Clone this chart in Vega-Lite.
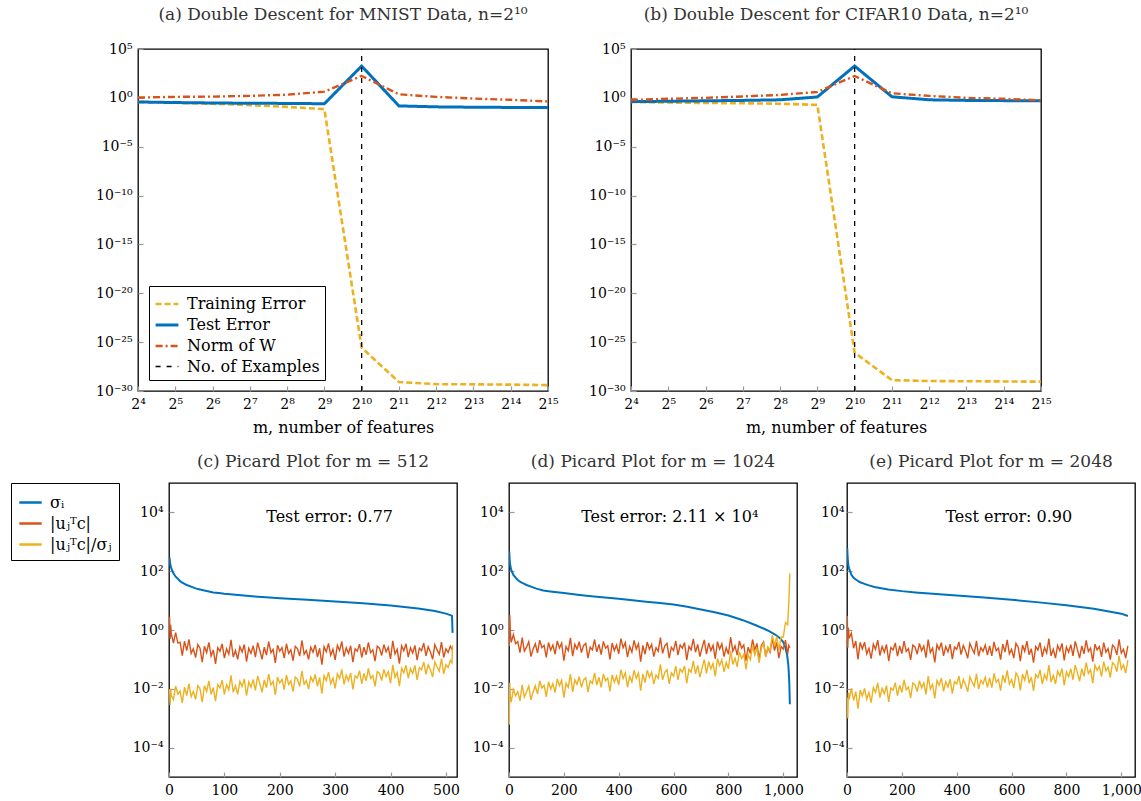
{
"$schema":"https://vega.github.io/schema/vega-lite/v6.json",
"padding":{"left":10,"top":5,"right":0,"bottom":0},
"config":{
 "font":"DejaVu Serif",
 "view":{"stroke":"black","strokeWidth":1.3},
 "axis":{"grid":false,"domain":false,"labelFont":"DejaVu Serif","labelFontSize":14,"labelColor":"black","labelFlush":false,"labelOverlap":false,"tickColor":"#999","tickSize":-5,"tickWidth":1.2,"labelPadding":11,"titleFont":"DejaVu Serif","titleFontSize":16,"titleFontWeight":"normal","titleColor":"black"},
 "title":{"font":"DejaVu Serif","fontSize":17,"fontWeight":"normal","color":"#333"},
 "legend":{"labelFont":"DejaVu Serif","labelFontSize":16,"labelColor":"black","strokeColor":"black","fillColor":"white","padding":6,"rowPadding":0,"labelOffset":7,"symbolType":"stroke"}
},
"datasets":{
 "topa":[
  {"m":16,"v":0.38,"s":"Training Error"},{"m":32,"v":0.32,"s":"Training Error"},{"m":64,"v":0.25,"s":"Training Error"},{"m":128,"v":0.18,"s":"Training Error"},{"m":256,"v":0.12,"s":"Training Error"},{"m":512,"v":0.07,"s":"Training Error"},{"m":1024,"v":2.7e-26,"s":"Training Error"},{"m":2048,"v":8.3e-30,"s":"Training Error"},{"m":4096,"v":5e-30,"s":"Training Error"},{"m":8192,"v":4.8e-30,"s":"Training Error"},{"m":16384,"v":4.5e-30,"s":"Training Error"},{"m":32768,"v":4e-30,"s":"Training Error"},
  {"m":16,"v":0.38,"s":"Test Error"},{"m":32,"v":0.33,"s":"Test Error"},{"m":64,"v":0.3,"s":"Test Error"},{"m":128,"v":0.28,"s":"Test Error"},{"m":256,"v":0.27,"s":"Test Error"},{"m":512,"v":0.25,"s":"Test Error"},{"m":1024,"v":1800,"s":"Test Error"},{"m":2048,"v":0.15,"s":"Test Error"},{"m":4096,"v":0.12,"s":"Test Error"},{"m":8192,"v":0.11,"s":"Test Error"},{"m":16384,"v":0.105,"s":"Test Error"},{"m":32768,"v":0.1,"s":"Test Error"},
  {"m":16,"v":1.07,"s":"Norm of W"},{"m":32,"v":1.26,"s":"Norm of W"},{"m":64,"v":1.35,"s":"Norm of W"},{"m":128,"v":1.6,"s":"Norm of W"},{"m":256,"v":2.1,"s":"Norm of W"},{"m":512,"v":4.3,"s":"Norm of W"},{"m":1024,"v":174,"s":"Norm of W"},{"m":2048,"v":2.3,"s":"Norm of W"},{"m":4096,"v":1.26,"s":"Norm of W"},{"m":8192,"v":0.85,"s":"Norm of W"},{"m":16384,"v":0.63,"s":"Norm of W"},{"m":32768,"v":0.43,"s":"Norm of W"},
  {"m":1024,"v":1e-30,"s":"No. of Examples"},{"m":1024,"v":100000,"s":"No. of Examples"}
 ],
 "topb":[
  {"m":16,"v":0.38,"s":"Training Error"},{"m":32,"v":0.33,"s":"Training Error"},{"m":64,"v":0.3,"s":"Training Error"},{"m":128,"v":0.28,"s":"Training Error"},{"m":256,"v":0.25,"s":"Training Error"},{"m":512,"v":0.19,"s":"Training Error"},{"m":1024,"v":8.3e-27,"s":"Training Error"},{"m":2048,"v":1.3e-29,"s":"Training Error"},{"m":4096,"v":1.05e-29,"s":"Training Error"},{"m":8192,"v":1e-29,"s":"Training Error"},{"m":16384,"v":9.5e-30,"s":"Training Error"},{"m":32768,"v":9e-30,"s":"Training Error"},
  {"m":16,"v":0.41,"s":"Test Error"},{"m":32,"v":0.45,"s":"Test Error"},{"m":64,"v":0.5,"s":"Test Error"},{"m":128,"v":0.55,"s":"Test Error"},{"m":256,"v":0.63,"s":"Test Error"},{"m":512,"v":1.23,"s":"Test Error"},{"m":1024,"v":1800,"s":"Test Error"},{"m":2048,"v":1.3,"s":"Test Error"},{"m":4096,"v":0.63,"s":"Test Error"},{"m":8192,"v":0.55,"s":"Test Error"},{"m":16384,"v":0.52,"s":"Test Error"},{"m":32768,"v":0.5,"s":"Test Error"},
  {"m":16,"v":0.6,"s":"Norm of W"},{"m":32,"v":0.8,"s":"Norm of W"},{"m":64,"v":1.0,"s":"Norm of W"},{"m":128,"v":1.4,"s":"Norm of W"},{"m":256,"v":2.0,"s":"Norm of W"},{"m":512,"v":4.0,"s":"Norm of W"},{"m":1024,"v":174,"s":"Norm of W"},{"m":2048,"v":2.95,"s":"Norm of W"},{"m":4096,"v":1.6,"s":"Norm of W"},{"m":8192,"v":1.0,"s":"Norm of W"},{"m":16384,"v":0.8,"s":"Norm of W"},{"m":32768,"v":0.56,"s":"Norm of W"},
  {"m":1024,"v":1e-30,"s":"No. of Examples"},{"m":1024,"v":100000,"s":"No. of Examples"}
 ],
 "sc":[{"j":1,"sig":290},{"j":2,"sig":190},{"j":3,"sig":150},{"j":4,"sig":130},{"j":6,"sig":100},{"j":8,"sig":85},{"j":12,"sig":65},{"j":16,"sig":55},{"j":20,"sig":46},{"j":24,"sig":41},{"j":28,"sig":37},{"j":32,"sig":34},{"j":40,"sig":30},{"j":48,"sig":26},{"j":56,"sig":24},{"j":64,"sig":22},{"j":72,"sig":20.5},{"j":80,"sig":19},{"j":90,"sig":18},{"j":100,"sig":17},{"j":125,"sig":15.4},{"j":150,"sig":14},{"j":175,"sig":13},{"j":200,"sig":12},{"j":250,"sig":10.6},{"j":300,"sig":9.3},{"j":350,"sig":8.1},{"j":400,"sig":6.8},{"j":450,"sig":5.4},{"j":480,"sig":4.4},{"j":500,"sig":3.6},{"j":508,"sig":3.2},{"j":511,"sig":3.0},{"j":512,"sig":0.8}],
 "sd":[{"j":1,"sig":470},{"j":2,"sig":300},{"j":3,"sig":200},{"j":5,"sig":150},{"j":8,"sig":110},{"j":16,"sig":75},{"j":24,"sig":60},{"j":32,"sig":50},{"j":40,"sig":44},{"j":48,"sig":40},{"j":56,"sig":37},{"j":64,"sig":34},{"j":80,"sig":30},{"j":100,"sig":25.5},{"j":125,"sig":22},{"j":150,"sig":20.5},{"j":200,"sig":18},{"j":250,"sig":15.8},{"j":300,"sig":14},{"j":350,"sig":12.7},{"j":400,"sig":11.5},{"j":450,"sig":10.3},{"j":500,"sig":9.2},{"j":550,"sig":8.3},{"j":600,"sig":7.4},{"j":650,"sig":6.2},{"j":700,"sig":5.0},{"j":750,"sig":4.0},{"j":800,"sig":3.1},{"j":850,"sig":2.2},{"j":900,"sig":1.45},{"j":930,"sig":1.1},{"j":950,"sig":0.9},{"j":970,"sig":0.7},{"j":980,"sig":0.6},{"j":990,"sig":0.5},{"j":1000,"sig":0.39},{"j":1008,"sig":0.25},{"j":1014,"sig":0.14},{"j":1018,"sig":0.07},{"j":1020,"sig":0.037},{"j":1022,"sig":0.015},{"j":1024,"sig":0.003}],
 "se":[{"j":1,"sig":600},{"j":2,"sig":350},{"j":3,"sig":250},{"j":5,"sig":160},{"j":8,"sig":120},{"j":16,"sig":75},{"j":24,"sig":60},{"j":32,"sig":52},{"j":48,"sig":42},{"j":64,"sig":37},{"j":80,"sig":33},{"j":100,"sig":29},{"j":150,"sig":24},{"j":200,"sig":21},{"j":250,"sig":19},{"j":300,"sig":17.5},{"j":400,"sig":15},{"j":500,"sig":12.7},{"j":600,"sig":10.7},{"j":700,"sig":8.7},{"j":800,"sig":7.0},{"j":900,"sig":5.3},{"j":1000,"sig":3.6},{"j":1024,"sig":3.0}],
 "nc":[{"j":1,"r":2.8,"y":0.0097},{"j":2,"r":0.5,"y":0.0028},{"j":3,"r":1.5,"y":0.01},{"j":4,"r":0.78,"y":0.006},{"j":8,"r":0.36,"y":0.0043},{"j":12,"r":0.81,"y":0.0124},{"j":16,"r":0.36,"y":0.0066},{"j":20,"r":0.385,"y":0.0084},{"j":24,"r":0.135,"y":0.0033},{"j":28,"r":0.42,"y":0.0114},{"j":32,"r":0.2,"y":0.0059},{"j":36,"r":0.48,"y":0.0151},{"j":40,"r":0.16,"y":0.0054},{"j":44,"r":0.23,"y":0.0082},{"j":48,"r":0.115,"y":0.0044},{"j":52,"r":0.32,"y":0.0128},{"j":56,"r":0.24,"y":0.01},{"j":60,"r":0.08,"y":0.0035},{"j":64,"r":0.28,"y":0.0127},{"j":68,"r":0.17,"y":0.0081},{"j":72,"r":0.38,"y":0.0186},{"j":76,"r":0.13,"y":0.0065},{"j":80,"r":0.21,"y":0.011},{"j":84,"r":0.07,"y":0.0038},{"j":88,"r":0.25,"y":0.0138},{"j":92,"r":0.19,"y":0.0107},{"j":96,"r":0.34,"y":0.0197},{"j":100,"r":0.11,"y":0.0065},{"j":104,"r":0.23,"y":0.0138},{"j":108,"r":0.15,"y":0.0092},{"j":112,"r":0.46,"y":0.0285},{"j":116,"r":0.12,"y":0.0076},{"j":120,"r":0.2,"y":0.0128},{"j":124,"r":0.1,"y":0.0065},{"j":128,"r":0.27,"y":0.0178},{"j":132,"r":0.18,"y":0.0121},{"j":136,"r":0.32,"y":0.0218},{"j":140,"r":0.084,"y":0.0058},{"j":144,"r":0.24,"y":0.0168},{"j":148,"r":0.16,"y":0.0114},{"j":152,"r":0.29,"y":0.0209},{"j":156,"r":0.12,"y":0.0088},{"j":160,"r":0.37,"y":0.0274},{"j":164,"r":0.2,"y":0.015},{"j":168,"r":0.1,"y":0.0076},{"j":172,"r":0.26,"y":0.02},{"j":176,"r":0.14,"y":0.0109},{"j":180,"r":0.4,"y":0.0316},{"j":184,"r":0.17,"y":0.0136},{"j":188,"r":0.22,"y":0.0178},{"j":192,"r":0.076,"y":0.0062},{"j":196,"r":0.3,"y":0.0249},{"j":200,"r":0.19,"y":0.0159},{"j":204,"r":0.25,"y":0.0211},{"j":208,"r":0.11,"y":0.0094},{"j":212,"r":0.34,"y":0.0294},{"j":216,"r":0.16,"y":0.014},{"j":220,"r":0.21,"y":0.0186},{"j":224,"r":0.09,"y":0.0081},{"j":228,"r":0.28,"y":0.0253},{"j":232,"r":0.23,"y":0.021},{"j":236,"r":0.13,"y":0.012},{"j":240,"r":0.44,"y":0.0411},{"j":244,"r":0.15,"y":0.0142},{"j":248,"r":0.2,"y":0.0191},{"j":252,"r":0.1,"y":0.0097},{"j":256,"r":0.26,"y":0.0254},{"j":260,"r":0.176,"y":0.0173},{"j":264,"r":0.31,"y":0.0308},{"j":268,"r":0.12,"y":0.0121},{"j":272,"r":0.24,"y":0.0244},{"j":276,"r":0.066,"y":0.0068},{"j":280,"r":0.27,"y":0.0279},{"j":284,"r":0.18,"y":0.0188},{"j":288,"r":0.35,"y":0.0369},{"j":292,"r":0.14,"y":0.0149},{"j":296,"r":0.22,"y":0.0235},{"j":300,"r":0.096,"y":0.0103},{"j":304,"r":0.3,"y":0.0327},{"j":308,"r":0.2,"y":0.0221},{"j":312,"r":0.41,"y":0.0459},{"j":316,"r":0.124,"y":0.0141},{"j":320,"r":0.25,"y":0.0289},{"j":324,"r":0.16,"y":0.0187},{"j":328,"r":0.29,"y":0.0344},{"j":332,"r":0.08,"y":0.0096},{"j":336,"r":0.23,"y":0.028},{"j":340,"r":0.19,"y":0.0234},{"j":344,"r":0.33,"y":0.0413},{"j":348,"r":0.116,"y":0.0147},{"j":352,"r":0.26,"y":0.0333},{"j":356,"r":0.144,"y":0.0186},{"j":360,"r":0.38,"y":0.0498},{"j":364,"r":0.17,"y":0.0225},{"j":368,"r":0.21,"y":0.0282},{"j":372,"r":0.088,"y":0.012},{"j":376,"r":0.28,"y":0.0385},{"j":380,"r":0.24,"y":0.0334},{"j":384,"r":0.136,"y":0.0191},{"j":388,"r":0.32,"y":0.0454},{"j":392,"r":0.18,"y":0.0259},{"j":396,"r":0.26,"y":0.0378},{"j":400,"r":0.104,"y":0.0153},{"j":404,"r":0.43,"y":0.0656},{"j":408,"r":0.156,"y":0.0246},{"j":412,"r":0.22,"y":0.036},{"j":416,"r":0.072,"y":0.0122},{"j":420,"r":0.29,"y":0.0506},{"j":424,"r":0.196,"y":0.0353},{"j":428,"r":0.34,"y":0.0631},{"j":432,"r":0.12,"y":0.0229},{"j":436,"r":0.25,"y":0.0491},{"j":440,"r":0.164,"y":0.0331},{"j":444,"r":0.3,"y":0.0623},{"j":448,"r":0.094,"y":0.02},{"j":452,"r":0.24,"y":0.0524},{"j":456,"r":0.2,"y":0.0448},{"j":460,"r":0.36,"y":0.0826},{"j":464,"r":0.132,"y":0.031},{"j":468,"r":0.27,"y":0.0649},{"j":472,"r":0.18,"y":0.0443},{"j":476,"r":0.1,"y":0.0252},{"j":480,"r":0.32,"y":0.0822},{"j":484,"r":0.21,"y":0.0551},{"j":488,"r":0.148,"y":0.0397},{"j":492,"r":0.39,"y":0.1067},{"j":496,"r":0.116,"y":0.0324},{"j":500,"r":0.23,"y":0.0656},{"j":504,"r":0.172,"y":0.0525},{"j":508,"r":0.28,"y":0.091},{"j":511,"r":0.22,"y":0.076},{"j":512,"r":0.25,"y":0.3}],
 "nd":[{"j":1,"r":0.28,"y":0.0006},{"j":3,"r":3.2,"y":0.016},{"j":5,"r":0.8,"y":0.0053},{"j":8,"r":0.38,"y":0.0035},{"j":16,"r":0.7,"y":0.0094},{"j":24,"r":0.34,"y":0.0058},{"j":32,"r":0.4,"y":0.008},{"j":40,"r":0.17,"y":0.0039},{"j":48,"r":0.55,"y":0.0137},{"j":56,"r":0.19,"y":0.0052},{"j":64,"r":0.26,"y":0.0078},{"j":72,"r":0.4,"y":0.0125},{"j":80,"r":0.125,"y":0.0042},{"j":88,"r":0.225,"y":0.0079},{"j":96,"r":0.34,"y":0.0127},{"j":104,"r":0.165,"y":0.0066},{"j":112,"r":0.45,"y":0.0185},{"j":120,"r":0.25,"y":0.0106},{"j":128,"r":0.3,"y":0.0131},{"j":136,"r":0.118,"y":0.0053},{"j":144,"r":0.375,"y":0.0173},{"j":152,"r":0.205,"y":0.0097},{"j":160,"r":0.31,"y":0.0151},{"j":168,"r":0.15,"y":0.0074},{"j":176,"r":0.425,"y":0.0216},{"j":184,"r":0.245,"y":0.0127},{"j":192,"r":0.36,"y":0.0194},{"j":200,"r":0.09,"y":0.005},{"j":208,"r":0.275,"y":0.0156},{"j":216,"r":0.195,"y":0.0113},{"j":224,"r":0.54,"y":0.0318},{"j":232,"r":0.13,"y":0.0079},{"j":240,"r":0.325,"y":0.0202},{"j":248,"r":0.225,"y":0.0142},{"j":256,"r":0.4,"y":0.0258},{"j":264,"r":0.17,"y":0.0112},{"j":272,"r":0.3,"y":0.02},{"j":280,"r":0.35,"y":0.0238},{"j":288,"r":0.11,"y":0.0077},{"j":296,"r":0.26,"y":0.0186},{"j":304,"r":0.21,"y":0.0153},{"j":312,"r":0.475,"y":0.0348},{"j":320,"r":0.18,"y":0.0134},{"j":328,"r":0.325,"y":0.0246},{"j":336,"r":0.145,"y":0.0111},{"j":344,"r":0.41,"y":0.0322},{"j":352,"r":0.24,"y":0.0188},{"j":360,"r":0.29,"y":0.0231},{"j":368,"r":0.1,"y":0.0082},{"j":376,"r":0.36,"y":0.03},{"j":384,"r":0.2,"y":0.0168},{"j":392,"r":0.31,"y":0.0268},{"j":400,"r":0.155,"y":0.0135},{"j":408,"r":0.51,"y":0.0453},{"j":416,"r":0.25,"y":0.0226},{"j":424,"r":0.375,"y":0.0345},{"j":432,"r":0.12,"y":0.0113},{"j":440,"r":0.275,"y":0.0263},{"j":448,"r":0.175,"y":0.017},{"j":456,"r":0.44,"y":0.0434},{"j":464,"r":0.225,"y":0.0227},{"j":472,"r":0.34,"y":0.0347},{"j":480,"r":0.083,"y":0.0086},{"j":488,"r":0.3,"y":0.0319},{"j":496,"r":0.15,"y":0.0162},{"j":504,"r":0.39,"y":0.0425},{"j":512,"r":0.22,"y":0.0246},{"j":520,"r":0.325,"y":0.037},{"j":528,"r":0.125,"y":0.0145},{"j":536,"r":0.25,"y":0.0295},{"j":544,"r":0.19,"y":0.0226},{"j":552,"r":0.55,"y":0.0673},{"j":560,"r":0.16,"y":0.0202},{"j":568,"r":0.29,"y":0.0365},{"j":576,"r":0.35,"y":0.0451},{"j":584,"r":0.11,"y":0.0147},{"j":592,"r":0.26,"y":0.0349},{"j":600,"r":0.2,"y":0.027},{"j":608,"r":0.425,"y":0.0595},{"j":616,"r":0.14,"y":0.0199},{"j":624,"r":0.31,"y":0.0469},{"j":632,"r":0.24,"y":0.0369},{"j":640,"r":0.375,"y":0.0602},{"j":648,"r":0.095,"y":0.0153},{"j":656,"r":0.275,"y":0.0457},{"j":664,"r":0.21,"y":0.0366},{"j":672,"r":0.5,"y":0.0894},{"j":680,"r":0.175,"y":0.0324},{"j":688,"r":0.325,"y":0.0624},{"j":696,"r":0.125,"y":0.0248},{"j":704,"r":0.25,"y":0.0512},{"j":712,"r":0.46,"y":0.099},{"j":720,"r":0.15,"y":0.0336},{"j":728,"r":0.36,"y":0.0845},{"j":736,"r":0.2,"y":0.0478},{"j":744,"r":0.3,"y":0.0736},{"j":752,"r":0.105,"y":0.0265},{"j":760,"r":0.4,"y":0.1056},{"j":768,"r":0.225,"y":0.0621},{"j":776,"r":0.34,"y":0.0975},{"j":784,"r":0.125,"y":0.0378},{"j":792,"r":0.25,"y":0.078},{"j":800,"r":0.15,"y":0.0484},{"j":808,"r":0.575,"y":0.1955},{"j":816,"r":0.19,"y":0.0675},{"j":824,"r":0.29,"y":0.1104},{"j":832,"r":0.14,"y":0.0561},{"j":840,"r":0.425,"y":0.1819},{"j":848,"r":0.24,"y":0.1074},{"j":856,"r":0.31,"y":0.15},{"j":864,"r":0.09,"y":0.0455},{"j":872,"r":0.26,"y":0.147},{"j":880,"r":0.16,"y":0.0975},{"j":888,"r":0.475,"y":0.3},{"j":896,"r":0.21,"y":0.142},{"j":904,"r":0.35,"y":0.249},{"j":912,"r":0.1,"y":0.076},{"j":920,"r":0.3,"y":0.246},{"j":928,"r":0.4,"y":0.355},{"j":936,"r":0.125,"y":0.12},{"j":944,"r":0.25,"y":0.262},{"j":952,"r":0.175,"y":0.198},{"j":960,"r":0.525,"y":0.672},{"j":968,"r":0.2,"y":0.288},{"j":976,"r":0.375,"y":0.6},{"j":984,"r":0.11,"y":0.207},{"j":992,"r":0.275,"y":0.583},{"j":1000,"r":0.225,"y":0.576},{"j":1008,"r":0.45,"y":1.8},{"j":1016,"r":0.15,"y":1.5},{"j":1020,"r":0.3,"y":8},{"j":1024,"r":0.25,"y":83}],
 "ne":[{"j":1,"r":3.0,"y":0.005},{"j":3,"r":0.25,"y":0.001},{"j":5,"r":1.2,"y":0.0075},{"j":8,"r":0.53,"y":0.0044},{"j":16,"r":0.78,"y":0.0104},{"j":24,"r":0.24,"y":0.004},{"j":32,"r":0.42,"y":0.008},{"j":40,"r":0.1,"y":0.0021},{"j":48,"r":0.38,"y":0.009},{"j":56,"r":0.225,"y":0.0058},{"j":64,"r":0.385,"y":0.0103},{"j":72,"r":0.154,"y":0.0044},{"j":80,"r":0.242,"y":0.0074},{"j":88,"r":0.106,"y":0.0034},{"j":96,"r":0.33,"y":0.011},{"j":104,"r":0.22,"y":0.0076},{"j":112,"r":0.45,"y":0.016},{"j":120,"r":0.136,"y":0.005},{"j":128,"r":0.275,"y":0.0104},{"j":136,"r":0.176,"y":0.0069},{"j":144,"r":0.32,"y":0.0128},{"j":152,"r":0.088,"y":0.0036},{"j":160,"r":0.253,"y":0.0107},{"j":168,"r":0.209,"y":0.009},{"j":176,"r":0.363,"y":0.0162},{"j":184,"r":0.128,"y":0.0058},{"j":192,"r":0.286,"y":0.0133},{"j":200,"r":0.158,"y":0.0076},{"j":208,"r":0.418,"y":0.0203},{"j":216,"r":0.187,"y":0.0092},{"j":224,"r":0.231,"y":0.0116},{"j":232,"r":0.097,"y":0.0049},{"j":240,"r":0.308,"y":0.0158},{"j":248,"r":0.264,"y":0.0138},{"j":256,"r":0.15,"y":0.008},{"j":264,"r":0.352,"y":0.0189},{"j":272,"r":0.198,"y":0.0108},{"j":280,"r":0.286,"y":0.0159},{"j":288,"r":0.114,"y":0.0064},{"j":296,"r":0.473,"y":0.0269},{"j":304,"r":0.172,"y":0.0099},{"j":312,"r":0.242,"y":0.0142},{"j":320,"r":0.079,"y":0.0047},{"j":328,"r":0.319,"y":0.0191},{"j":336,"r":0.216,"y":0.0131},{"j":344,"r":0.374,"y":0.023},{"j":352,"r":0.132,"y":0.0082},{"j":360,"r":0.275,"y":0.0174},{"j":368,"r":0.18,"y":0.0115},{"j":376,"r":0.33,"y":0.0213},{"j":384,"r":0.103,"y":0.0068},{"j":392,"r":0.264,"y":0.0175},{"j":400,"r":0.22,"y":0.0147},{"j":408,"r":0.396,"y":0.0268},{"j":416,"r":0.145,"y":0.01},{"j":424,"r":0.297,"y":0.0207},{"j":432,"r":0.198,"y":0.014},{"j":440,"r":0.11,"y":0.0079},{"j":448,"r":0.352,"y":0.0254},{"j":456,"r":0.231,"y":0.017},{"j":464,"r":0.163,"y":0.0121},{"j":472,"r":0.429,"y":0.0324},{"j":480,"r":0.128,"y":0.0097},{"j":488,"r":0.253,"y":0.0196},{"j":496,"r":0.189,"y":0.0148},{"j":504,"r":0.308,"y":0.0245},{"j":512,"r":0.139,"y":0.0112},{"j":520,"r":0.286,"y":0.0234},{"j":528,"r":0.132,"y":0.011},{"j":536,"r":0.396,"y":0.0335},{"j":544,"r":0.198,"y":0.0169},{"j":552,"r":0.242,"y":0.021},{"j":560,"r":0.099,"y":0.0087},{"j":568,"r":0.33,"y":0.0294},{"j":576,"r":0.176,"y":0.0159},{"j":584,"r":0.462,"y":0.0422},{"j":592,"r":0.154,"y":0.0143},{"j":600,"r":0.22,"y":0.0206},{"j":608,"r":0.11,"y":0.0105},{"j":616,"r":0.352,"y":0.0342},{"j":624,"r":0.264,"y":0.026},{"j":632,"r":0.088,"y":0.0088},{"j":640,"r":0.308,"y":0.0315},{"j":648,"r":0.187,"y":0.0195},{"j":656,"r":0.418,"y":0.0443},{"j":664,"r":0.143,"y":0.0153},{"j":672,"r":0.231,"y":0.0252},{"j":680,"r":0.077,"y":0.0085},{"j":688,"r":0.275,"y":0.031},{"j":696,"r":0.209,"y":0.0239},{"j":704,"r":0.374,"y":0.0437},{"j":712,"r":0.121,"y":0.0144},{"j":720,"r":0.253,"y":0.0307},{"j":728,"r":0.165,"y":0.0204},{"j":736,"r":0.506,"y":0.0637},{"j":744,"r":0.132,"y":0.0169},{"j":752,"r":0.22,"y":0.0287},{"j":760,"r":0.11,"y":0.0146},{"j":768,"r":0.297,"y":0.0401},{"j":776,"r":0.198,"y":0.0272},{"j":784,"r":0.352,"y":0.049},{"j":792,"r":0.092,"y":0.0131},{"j":800,"r":0.264,"y":0.0377},{"j":808,"r":0.176,"y":0.0258},{"j":816,"r":0.319,"y":0.0479},{"j":824,"r":0.132,"y":0.0203},{"j":832,"r":0.407,"y":0.064},{"j":840,"r":0.22,"y":0.0354},{"j":848,"r":0.11,"y":0.0181},{"j":856,"r":0.286,"y":0.0481},{"j":864,"r":0.154,"y":0.0265},{"j":872,"r":0.44,"y":0.0772},{"j":880,"r":0.187,"y":0.0335},{"j":888,"r":0.242,"y":0.0442},{"j":896,"r":0.084,"y":0.0156},{"j":904,"r":0.33,"y":0.0642},{"j":912,"r":0.209,"y":0.0422},{"j":920,"r":0.275,"y":0.0574},{"j":928,"r":0.121,"y":0.0261},{"j":936,"r":0.374,"y":0.0835},{"j":944,"r":0.176,"y":0.0405},{"j":952,"r":0.231,"y":0.0548},{"j":960,"r":0.099,"y":0.0242},{"j":968,"r":0.308,"y":0.0774},{"j":976,"r":0.253,"y":0.0654},{"j":984,"r":0.143,"y":0.038},{"j":992,"r":0.484,"y":0.132},{"j":1000,"r":0.165,"y":0.0458},{"j":1008,"r":0.22,"y":0.0645},{"j":1016,"r":0.11,"y":0.0344},{"j":1024,"r":0.286,"y":0.0953}],
 "tc":[{"j":290,"v":6800,"t":"Test error: 0.77"}],
 "td":[{"j":586,"v":6800,"t":"Test error: 2.11 × 10⁴"}],
 "te":[{"j":590,"v":6800,"t":"Test error: 0.90"}]
},
"resolve":{"scale":{"color":"independent","strokeDash":"independent","strokeWidth":"independent"}},
"spacing":16,
"vconcat":[
 {"hconcat":[
  {"width":410,"height":342,"title":{"text":"(a) Double Descent for MNIST Data, n=2¹⁰","offset":18},"data":{"name":"topa"},"mark":{"type":"line","clip":true},
   "encoding":{
    "x":{"field":"m","type":"quantitative","scale":{"type":"log","base":2,"domain":[16,32768],"nice":false},"axis":{"values":[16,32,64,128,256,512,1024,2048,4096,8192,16384,32768],"labelExpr":"['2⁴','2⁵','2⁶','2⁷','2⁸','2⁹','2¹⁰','2¹¹','2¹²','2¹³','2¹⁴','2¹⁵'][round(log(datum.value)/LN2)-4]","title":"m, number of features","titlePadding":8}},
    "y":{"field":"v","type":"quantitative","scale":{"type":"log","domain":[1e-30,100000],"nice":false},"axis":{"values":[1e-30,1e-25,1e-20,1e-15,1e-10,1e-5,1,100000],"labelExpr":"['10⁻³⁰','10⁻²⁵','10⁻²⁰','10⁻¹⁵','10⁻¹⁰','10⁻⁵','10⁰','10⁵'][round(log(datum.value)/LN10/5)+6]","title":null,"minExtent":41,"maxExtent":41}},
    "color":{"field":"s","type":"nominal","scale":{"domain":["Training Error","Test Error","Norm of W","No. of Examples"],"range":["#EDB120","#0072BD","#D95319","#000000"]},"legend":{"orient":"bottom-left","offset":11,"title":null,"symbolSize":520,"padding":5}},
    "strokeDash":{"field":"s","type":"nominal","scale":{"domain":["Training Error","Test Error","Norm of W","No. of Examples"],"range":[[6,3],[1,0],[7,3,2,3],[5,6]]}},
    "strokeWidth":{"field":"s","type":"nominal","scale":{"type":"ordinal","domain":["Training Error","Test Error","Norm of W","No. of Examples"],"range":[2.6,3,2.4,1.3]}}
   }},
  {"width":410,"height":342,"title":{"text":"(b) Double Descent for CIFAR10 Data, n=2¹⁰","offset":18},"data":{"name":"topb"},"mark":{"type":"line","clip":true},
   "encoding":{
    "x":{"field":"m","type":"quantitative","scale":{"type":"log","base":2,"domain":[16,32768],"nice":false},"axis":{"values":[16,32,64,128,256,512,1024,2048,4096,8192,16384,32768],"labelExpr":"['2⁴','2⁵','2⁶','2⁷','2⁸','2⁹','2¹⁰','2¹¹','2¹²','2¹³','2¹⁴','2¹⁵'][round(log(datum.value)/LN2)-4]","title":"m, number of features","titlePadding":8}},
    "y":{"field":"v","type":"quantitative","scale":{"type":"log","domain":[1e-30,100000],"nice":false},"axis":{"values":[1e-30,1e-25,1e-20,1e-15,1e-10,1e-5,1,100000],"labelExpr":"['10⁻³⁰','10⁻²⁵','10⁻²⁰','10⁻¹⁵','10⁻¹⁰','10⁻⁵','10⁰','10⁵'][round(log(datum.value)/LN10/5)+6]","title":null,"minExtent":52,"maxExtent":52}},
    "color":{"field":"s","type":"nominal","scale":{"domain":["Training Error","Test Error","Norm of W","No. of Examples"],"range":["#EDB120","#0072BD","#D95319","#000000"]},"legend":null},
    "strokeDash":{"field":"s","type":"nominal","scale":{"domain":["Training Error","Test Error","Norm of W","No. of Examples"],"range":[[6,3],[1,0],[7,3,2,3],[5,6]]},"legend":null},
    "strokeWidth":{"field":"s","type":"nominal","scale":{"type":"ordinal","domain":["Training Error","Test Error","Norm of W","No. of Examples"],"range":[2.6,3,2.4,1.3]},"legend":null}
   }}
 ],"spacing":19,"resolve":{"scale":{"color":"independent","strokeDash":"independent","strokeWidth":"independent"}}},
 {"hconcat":[
  {"width":1,"height":294,"view":{"stroke":null},"data":{"name":"sc"},"transform":[{"filter":"false"},{"fold":["sig"],"as":["s","v"]}],"mark":{"type":"line","strokeWidth":2},
   "encoding":{
    "x":{"field":"j","type":"quantitative","scale":{"domain":[0,1]},"axis":null},
    "y":{"field":"v","type":"quantitative","scale":{"domain":[0,1]},"axis":null},
    "color":{"field":"s","type":"nominal","scale":{"domain":["sig","r","y"],"range":["#0072BD","#D95319","#EDB120"]},"legend":{"orient":"left","offset":19,"title":null,"symbolSize":500,"symbolStrokeWidth":2.5,"padding":7,"labelExpr":"datum.label=='sig'?'σᵢ':datum.label=='r'?'|uⱼᵀc|':'|uⱼᵀc|/σⱼ'"}}}},
  {"hconcat":[
   {"width":288,"height":294,"title":{"text":"(c) Picard Plot for m = 512","offset":12},
    "encoding":{
     "x":{"field":"j","type":"quantitative","scale":{"domain":[0,520],"nice":false,"zero":false},"axis":{"values":[0,100,200,300,400,500],"title":null}},
     "y":{"field":"v","type":"quantitative","scale":{"type":"log","domain":[0.00001,100000],"nice":false},"axis":{"values":[0.0001,0.01,1,100,10000],"labelExpr":"['10⁻⁴','10⁻²','10⁰','10²','10⁴'][round(log(datum.value)/LN10/2)+2]","title":null,"minExtent":42,"maxExtent":42}}},
    "layer":[
     {"data":{"name":"sc"},"transform":[{"fold":["sig"],"as":["s","v"]}],"mark":{"type":"line","clip":true,"strokeWidth":2},
      "encoding":{"color":{"field":"s","type":"nominal","scale":{"domain":["sig","r","y"],"range":["#0072BD","#D95319","#EDB120"]},"legend":null}}},
     {"data":{"name":"nc"},"transform":[{"fold":["r","y"],"as":["s","v"]}],"mark":{"type":"line","clip":true,"strokeWidth":1.4},
      "encoding":{"color":{"field":"s","type":"nominal","scale":{"domain":["sig","r","y"],"range":["#0072BD","#D95319","#EDB120"]},"legend":null}}},
     {"data":{"name":"tc"},"mark":{"type":"text","fontSize":16,"font":"DejaVu Serif","baseline":"middle","color":"black"},"encoding":{"text":{"field":"t"}}}
    ]},
   {"width":288,"height":294,"title":{"text":"(d) Picard Plot for m = 1024","offset":12},
    "encoding":{
     "x":{"field":"j","type":"quantitative","scale":{"domain":[0,1050],"nice":false,"zero":false},"axis":{"values":[0,200,400,600,800,1000],"labelExpr":"format(datum.value, ',')","title":null}},
     "y":{"field":"v","type":"quantitative","scale":{"type":"log","domain":[0.00001,100000],"nice":false},"axis":{"values":[0.0001,0.01,1,100,10000],"labelExpr":"['10⁻⁴','10⁻²','10⁰','10²','10⁴'][round(log(datum.value)/LN10/2)+2]","title":null,"minExtent":45,"maxExtent":45}}},
    "layer":[
     {"data":{"name":"sd"},"transform":[{"fold":["sig"],"as":["s","v"]}],"mark":{"type":"line","clip":true,"strokeWidth":2},
      "encoding":{"color":{"field":"s","type":"nominal","scale":{"domain":["sig","r","y"],"range":["#0072BD","#D95319","#EDB120"]},"legend":null}}},
     {"data":{"name":"nd"},"transform":[{"fold":["r","y"],"as":["s","v"]}],"mark":{"type":"line","clip":true,"strokeWidth":1.4},
      "encoding":{"color":{"field":"s","type":"nominal","scale":{"domain":["sig","r","y"],"range":["#0072BD","#D95319","#EDB120"]},"legend":null}}},
     {"data":{"name":"td"},"mark":{"type":"text","fontSize":16,"font":"DejaVu Serif","baseline":"middle","color":"black"},"encoding":{"text":{"field":"t"}}}
    ]},
   {"width":288,"height":294,"title":{"text":"(e) Picard Plot for m = 2048","offset":12},
    "encoding":{
     "x":{"field":"j","type":"quantitative","scale":{"domain":[0,1050],"nice":false,"zero":false},"axis":{"values":[0,200,400,600,800,1000],"labelExpr":"format(datum.value, ',')","title":null}},
     "y":{"field":"v","type":"quantitative","scale":{"type":"log","domain":[0.00001,100000],"nice":false},"axis":{"values":[0.0001,0.01,1,100,10000],"labelExpr":"['10⁻⁴','10⁻²','10⁰','10²','10⁴'][round(log(datum.value)/LN10/2)+2]","title":null,"labelPadding":8,"minExtent":39,"maxExtent":39}}},
    "layer":[
     {"data":{"name":"se"},"transform":[{"fold":["sig"],"as":["s","v"]}],"mark":{"type":"line","clip":true,"strokeWidth":2},
      "encoding":{"color":{"field":"s","type":"nominal","scale":{"domain":["sig","r","y"],"range":["#0072BD","#D95319","#EDB120"]},"legend":null}}},
     {"data":{"name":"ne"},"transform":[{"fold":["r","y"],"as":["s","v"]}],"mark":{"type":"line","clip":true,"strokeWidth":1.4},
      "encoding":{"color":{"field":"s","type":"nominal","scale":{"domain":["sig","r","y"],"range":["#0072BD","#D95319","#EDB120"]},"legend":null}}},
     {"data":{"name":"te"},"mark":{"type":"text","fontSize":16,"font":"DejaVu Serif","baseline":"middle","color":"black"},"encoding":{"text":{"field":"t"}}}
    ]}
  ],"spacing":3,"resolve":{"scale":{"color":"independent"}}}
 ],"spacing":-13,"resolve":{"scale":{"color":"independent"}}}
]
}
